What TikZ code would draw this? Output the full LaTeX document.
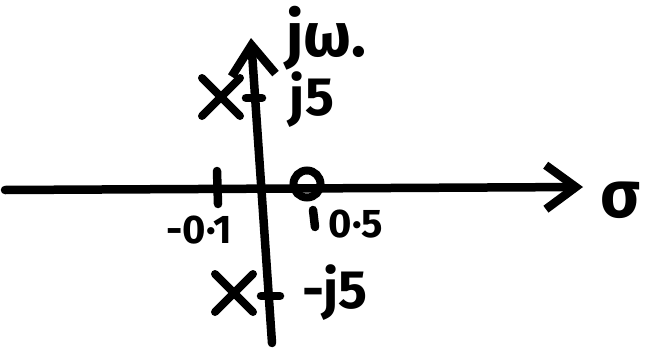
\documentclass[tikz,border=0pt]{standalone}
\usepackage{fontspec}
\setmainfont{Fira Sans}
\usetikzlibrary{arrows.meta,shapes.misc,positioning}

\begin{document}
\begin{tikzpicture}[x=1pt,y=-1pt,
  pen/.style={line width=8.5pt,line cap=round,line join=round},
  axis/.style={pen,-{Straight Barb[length=30pt,width=44pt,line width=8.5pt]}},
  pole/.style={cross out,draw,line width=8pt,line cap=round,minimum size=30pt,inner sep=0pt},
  zero/.style={circle,draw,line width=8pt,minimum size=27pt,inner sep=0pt},
  lbl/.style={font=\fontsize{54}{54}\selectfont\bfseries,inner sep=0pt},
  num/.style={font=\fontsize{40}{40}\selectfont\bfseries,inner sep=0pt}]
  \useasboundingbox (0,0) rectangle (647,348);
  % axes
  \coordinate (sl) at (5,190);
  \coordinate (sr) at (583,187);
  \coordinate (wb) at (272,343);
  \coordinate (wt) at (251,38);
  \draw[axis] (sl) -- (sr);
  \draw[axis] (wb) -- (wt);
  \node[lbl,font=\fontsize{66}{66}\selectfont\bfseries] (sig) at (620,200) {σ};
  \node[lbl,font=\fontsize{62}{62}\selectfont\bfseries,anchor=base west] (jw) at (286,56) {jω.};
  % poles at -0.1 +- j5
  \node[pole] (p1) at (221,97) {};
  \node[pole] (p2) at (234,293) {};
  \coordinate (t1a) at (246,98);
  \coordinate (t1b) at (262,98);
  \coordinate (t2a) at (261,296);
  \coordinate (t2b) at (280,296);
  \draw[pen] (t1a) -- (t1b);
  \draw[pen] (t2a) -- (t2b);
  \node[lbl] (j5) at (312,100) {j5};
  \node[lbl] (mj5) at (335,293) {-j5};
  % real axis marks
  \coordinate (ra) at (217,171);
  \coordinate (rb) at (218,204);
  \draw[pen] (ra) -- (rb);
  \node[num] (m01) at (199,230) {-0·1};
  \node[zero] (z1) at (307,184) {};
  \coordinate (za) at (313,210);
  \coordinate (zb) at (315,227);
  \draw[pen] (za) -- (zb);
  \node[num] (z05) at (356,224) {0·5};
\end{tikzpicture}
\end{document}
